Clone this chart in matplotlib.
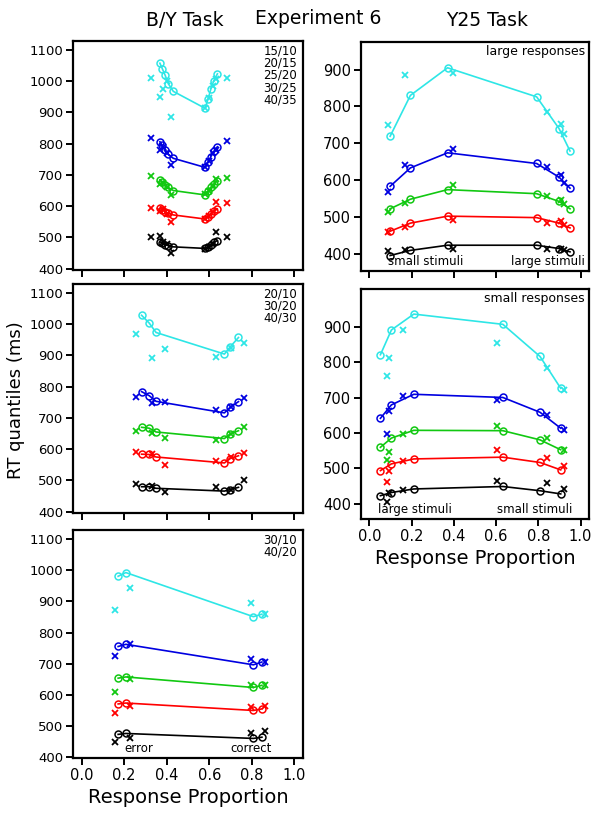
import matplotlib.pyplot as plt

W, H = 603, 817

# quantile colours: .1 .3 .5 .7 .9
qcolors = ["black", "#ff0000", "#11c811", "#0000e0", "#2ee6e6"]

# ---- B/Y task, 5 conditions (15/10 ... 40/35) ----
by1_model_x = [0.368, 0.379, 0.393, 0.407, 0.431, 0.580, 0.595, 0.607, 0.621, 0.638]
by1_model_rt = [
    [486, 483, 477, 474, 470, 465, 470, 477, 485, 490],
    [593, 589, 582, 578, 572, 559, 566, 576, 584, 591],
    [684, 677, 668, 660, 650, 636, 647, 660, 671, 682],
    [806, 795, 781, 766, 753, 724, 741, 758, 775, 790],
    [1057, 1040, 1018, 992, 967, 913, 944, 974, 1001, 1023],
]
by1_data_x = [0.325, 0.370, 0.381, 0.400, 0.419, 0.581, 0.600, 0.619, 0.630, 0.682]
by1_data_rt = [
    [500, 505, 485, 478, 451, 462, 470, 480, 516, 502],
    [593, 585, 590, 575, 548, 558, 568, 580, 612, 609],
    [698, 670, 675, 660, 636, 640, 650, 665, 687, 691],
    [817, 780, 790, 770, 732, 725, 745, 770, 780, 809],
    [1011, 950, 974, 1000, 886, 915, 945, 985, 1005, 1011],
]

# ---- B/Y task, 3 conditions (20/10, 30/20, 40/30) ----
by2_model_x = [0.282, 0.318, 0.350, 0.671, 0.698, 0.737]
by2_model_rt = [
    [480, 480, 475, 466, 471, 478],
    [584, 583, 575, 556, 570, 579],
    [670, 667, 655, 634, 649, 659],
    [784, 771, 753, 716, 734, 752],
    [1028, 1003, 973, 904, 927, 957],
]
by2_data_x = [0.255, 0.329, 0.392, 0.630, 0.700, 0.763]
by2_data_rt = [
    [488, 482, 462, 478, 470, 502],
    [591, 584, 549, 563, 574, 588],
    [659, 653, 637, 628, 648, 670],
    [766, 747, 750, 724, 736, 764],
    [968, 893, 920, 895, 925, 939],
]

# ---- B/Y task, 2 conditions (30/10, 40/20) ----
by3_model_x = [0.172, 0.208, 0.807, 0.847]
by3_model_rt = [
    [472, 475, 459, 463],
    [570, 573, 549, 554],
    [653, 657, 623, 630],
    [755, 762, 696, 705],
    [981, 993, 851, 859],
]
by3_data_x = [0.157, 0.228, 0.795, 0.862]
by3_data_rt = [
    [447, 461, 475, 484],
    [541, 565, 560, 565],
    [607, 651, 632, 632],
    [723, 763, 715, 705],
    [872, 942, 894, 859],
]

# ---- Y25 task, large responses ----
yl_model_x = [0.098, 0.194, 0.370, 0.792, 0.898, 0.950]
yl_model_rt = [
    [395, 409, 423, 423, 414, 405],
    [461, 483, 502, 498, 483, 470],
    [522, 548, 574, 563, 542, 522],
    [583, 633, 674, 645, 608, 578],
    [719, 830, 905, 826, 740, 679],
]
yl_data_x = [0.087, 0.170, 0.398, 0.842, 0.909, 0.921]
yl_data_rt = [
    [407, 409, 414, 414, 412, 409],
    [459, 473, 492, 483, 488, 479],
    [514, 538, 586, 557, 545, 534],
    [568, 640, 685, 636, 613, 592],
    [749, 885, 892, 785, 751, 726],
]

# ---- Y25 task, small responses ----
ys_model_x = [0.052, 0.104, 0.210, 0.632, 0.808, 0.906]
ys_model_rt = [
    [423, 432, 442, 449, 437, 428],
    [494, 513, 527, 532, 517, 496],
    [560, 586, 608, 607, 581, 553],
    [642, 680, 710, 701, 659, 614],
    [822, 892, 937, 908, 817, 727],
]
ys_data_x = [0.082, 0.092, 0.160, 0.605, 0.840, 0.920]
ys_data_rt = [
    [404, 430, 438, 465, 458, 442],
    [461, 492, 520, 551, 529, 508],
    [525, 548, 597, 619, 586, 553],
    [598, 664, 704, 694, 652, 609],
    [762, 812, 892, 855, 784, 723],
]

xticks = [0.0, 0.2, 0.4, 0.6, 0.8, 1.0]
left_yticks = [400, 500, 600, 700, 800, 900, 1000, 1100]
right_yticks = [400, 500, 600, 700, 800, 900]


def px_box(left, top, right, bottom):
    return [left / W, 1 - bottom / H, (right - left) / W, (bottom - top) / H]


def draw_panel(ax, mx, mrt, dx, drt, ylim, yticks, ytick_fs, xlabels):
    for col, m, d in zip(qcolors, mrt, drt):
        ax.plot(mx, m, color=col, lw=1.2, marker="o", mfc="none", ms=5, mew=1.1)
        ax.plot(dx, d, ls="none", color=col, marker="x", ms=5, mew=1.3)
    ax.set_xlim(-0.04, 1.04)
    ax.set_ylim(*ylim)
    ax.set_xticks(xticks)
    ax.set_yticks(yticks)
    ax.tick_params(direction="out", length=5, width=1.4, labelsize=ytick_fs, pad=2)
    if xlabels:
        ax.set_xticklabels(["0.0", "0.2", "0.4", "0.6", "0.8", "1.0"], fontsize=10.5)
        ax.set_xlabel("Response Proportion", fontsize=14, labelpad=4)
    else:
        ax.set_xticklabels([])
    for s in ax.spines.values():
        s.set_linewidth(1.6)


fig = plt.figure(figsize=(W / 100, H / 100), dpi=100)

ax1 = fig.add_axes(px_box(73, 41, 303, 270))
draw_panel(ax1, by1_model_x, by1_model_rt, by1_data_x, by1_data_rt, (396, 1128), left_yticks, 9.5, False)
ax1.text(0.974, 0.985, "15/10\n20/15\n25/20\n30/25\n40/35", transform=ax1.transAxes,
         ha="right", va="top", fontsize=8.5, linespacing=0.92)

ax2 = fig.add_axes(px_box(73, 284, 303, 513))
draw_panel(ax2, by2_model_x, by2_model_rt, by2_data_x, by2_data_rt, (396, 1128), left_yticks, 9.5, False)
ax2.text(0.974, 0.985, "20/10\n30/20\n40/30", transform=ax2.transAxes,
         ha="right", va="top", fontsize=8.5, linespacing=0.92)

ax3 = fig.add_axes(px_box(73, 530, 303, 758))
draw_panel(ax3, by3_model_x, by3_model_rt, by3_data_x, by3_data_rt, (396, 1130), left_yticks, 9.5, True)
ax3.text(0.974, 0.985, "30/10\n40/20", transform=ax3.transAxes,
         ha="right", va="top", fontsize=8.5, linespacing=0.92)
ax3.text(0.222, 0.015, "error", transform=ax3.transAxes, ha="left", va="bottom", fontsize=8.5)
ax3.text(0.865, 0.015, "correct", transform=ax3.transAxes, ha="right", va="bottom", fontsize=8.5)

ax4 = fig.add_axes(px_box(361, 42, 589, 271))
draw_panel(ax4, yl_model_x, yl_model_rt, yl_data_x, yl_data_rt, (353, 975), right_yticks, 10.5, False)
ax4.text(0.982, 0.985, "large responses", transform=ax4.transAxes, ha="right", va="top", fontsize=9)
ax4.text(0.118, 0.012, "small stimuli", transform=ax4.transAxes, ha="left", va="bottom", fontsize=8.5)
ax4.text(0.982, 0.012, "large stimuli", transform=ax4.transAxes, ha="right", va="bottom", fontsize=8.5)

ax5 = fig.add_axes(px_box(361, 289, 589, 519))
draw_panel(ax5, ys_model_x, ys_model_rt, ys_data_x, ys_data_rt, (357, 1008), right_yticks, 10.5, True)
ax5.text(0.982, 0.985, "small responses", transform=ax5.transAxes, ha="right", va="top", fontsize=9)
ax5.text(0.075, 0.012, "large stimuli", transform=ax5.transAxes, ha="left", va="bottom", fontsize=8.5)
ax5.text(0.925, 0.012, "small stimuli", transform=ax5.transAxes, ha="right", va="bottom", fontsize=8.5)

fig.text(185 / W, 1 - 20 / H, "B/Y Task", ha="center", va="center", fontsize=13.5)
fig.text(318 / W, 1 - 18 / H, "Experiment 6", ha="center", va="center", fontsize=13.5)
fig.text(487 / W, 1 - 20 / H, "Y25 Task", ha="center", va="center", fontsize=13.5)
fig.text(16 / W, 1 - 400 / H, "RT quantiles (ms)", rotation=90, ha="center", va="center", fontsize=13)

fig.savefig("out.png", dpi=100)
